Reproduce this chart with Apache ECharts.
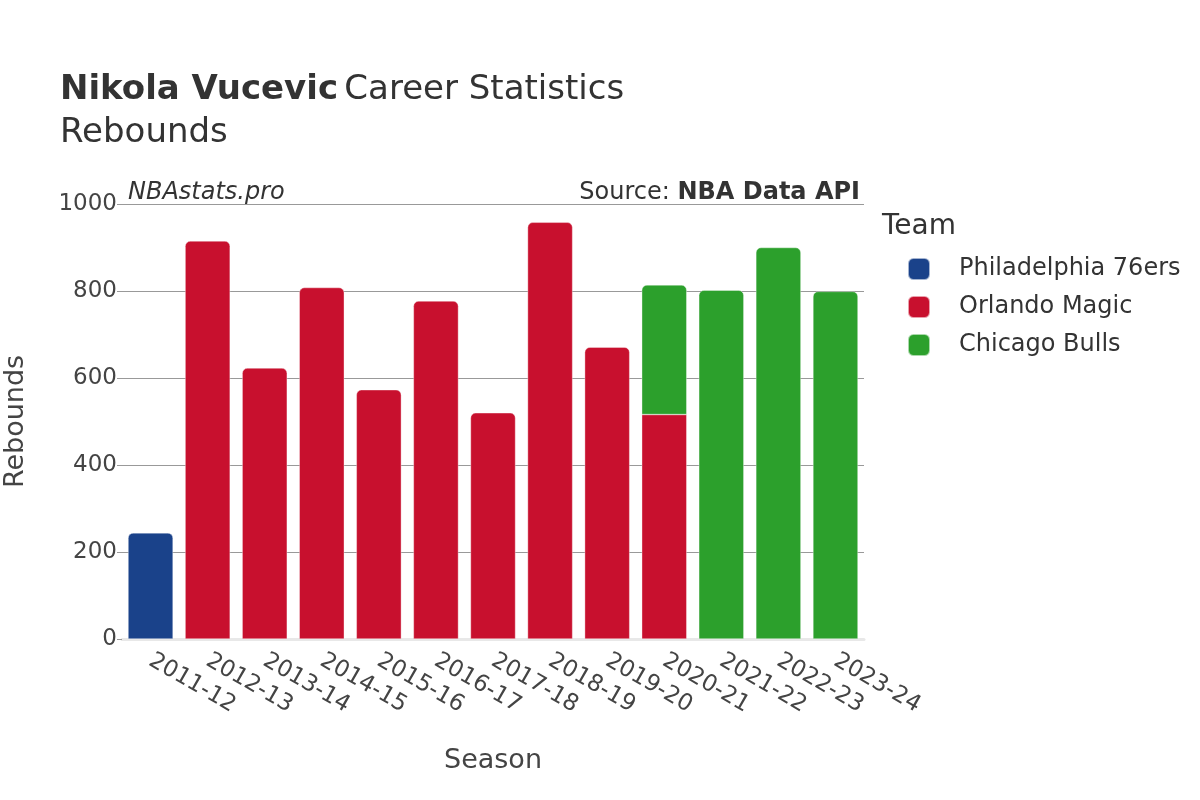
<!DOCTYPE html>
<html>
<head>
<meta charset="utf-8">
<script src="https://cdn.jsdelivr.net/npm/echarts@6/dist/echarts.min.js"></script>
<style>html,body{margin:0;padding:0;background:#fff}#c{width:1200px;height:800px}</style>
</head>
<body>
<div id="c"></div>
<script>
var seasons = ['2011-12','2012-13','2013-14','2014-15','2015-16','2016-17','2017-18','2018-19','2019-20','2020-21','2021-22','2022-23','2023-24'];
var phi = [244, null, null, null, null, null, null, null, null, null, null, null, null];
var orl = [null, 915, 623, 808, 573, 777, 520, 958, 671, 516, null, null, null];
var chi = [null, null, null, null, null, null, null, null, null, 298, 802, 900, 799];
var teams = ['Philadelphia 76ers', 'Orlando Magic', 'Chicago Bulls'];
var colors = ['#1a428a', '#c8102e', '#2ca02c'];
var yTicks = [0, 200, 400, 600, 800, 1000];

var FONT = 'DejaVu Sans';
var all = [phi, orl, chi];
function topIndex(i) {
  var t = -1;
  for (var s = 0; s < all.length; s++) if (all[s][i] != null) t = s;
  return t;
}
function build(arr, sIdx) {
  return arr.map(function (v, i) {
    if (v == null) return null;
    var isTop = topIndex(i) === sIdx;
    return { value: v, itemStyle: { borderRadius: isTop ? [5, 5, 0, 0] : 0 } };
  });
}
var series = all.map(function (arr, s) {
  return {
    name: teams[s], type: 'bar', stack: 'total', data: build(arr, s),
    barCategoryGap: '21%',
    itemStyle: { color: colors[s], borderColor: 'rgba(255,255,255,0.6)', borderWidth: 0.6 },
    emphasis: { disabled: true }
  };
});

var chart = echarts.init(document.getElementById('c'), null, { renderer: 'canvas' });
chart.setOption({
  animation: false,
  backgroundColor: '#fff',
  textStyle: { fontFamily: FONT },
  title: {
    left: 55, top: 64,
    text: '{b|Nikola Vucevic} {n|Career Statistics}\n{n|Rebounds}',
    textStyle: {
      rich: {
        b: { fontFamily: FONT, fontWeight: 'bold', fontSize: 34, color: '#333', lineHeight: 43 },
        n: { fontFamily: FONT, fontWeight: 'normal', fontSize: 34, color: '#333', lineHeight: 43 }
      }
    }
  },
  legend: {
    orient: 'vertical', left: 902, top: 252,
    icon: 'roundRect', itemWidth: 22, itemHeight: 22, itemGap: 14,
    textStyle: { fontFamily: FONT, fontSize: 24, color: '#333', padding: [0, 0, 0, 24] },
    data: teams
  },
  grid: { left: 122, right: 336, top: 204, bottom: 161, containLabel: false, outerBoundsMode: 'none' },
  xAxis: {
    type: 'category', data: seasons,
    name: 'Season', nameLocation: 'middle', nameGap: 108,
    nameTextStyle: { fontFamily: FONT, fontSize: 27, color: '#444' },
    axisLine: { show: true, lineStyle: { color: '#e8e8e8', width: 3 } },
    axisTick: { show: false },
    axisLabel: { rotate: -30, fontFamily: FONT, fontSize: 23, color: '#444', margin: 20, interval: 0 }
  },
  yAxis: {
    type: 'value', min: 0, max: 1000, interval: 200,
    name: 'Rebounds', nameLocation: 'middle', nameGap: 93,
    nameTextStyle: { fontFamily: FONT, fontSize: 27, color: '#444' },
    axisLine: { show: false },
    axisTick: { show: true, length: 5, lineStyle: { color: '#999' } },
    axisLabel: { fontFamily: FONT, fontSize: 23, color: '#444', margin: 5,
      formatter: function (v) { return yTicks.indexOf(v) >= 0 ? String(v) : ''; } },
    splitLine: { lineStyle: { color: '#999', width: 1 } }
  },
  graphic: [
    { type: 'text', left: 128, top: 181, style: { text: 'NBAstats.pro', font: 'italic 24px "DejaVu Sans"', fill: '#333' } },
    { type: 'text', right: 340, top: 181, style: { text: '{n|Source: }{b|NBA Data API}', fill: '#333', rich: {
        n: { fontFamily: FONT, fontSize: 24, fill: '#333' },
        b: { fontFamily: FONT, fontSize: 24, fontWeight: 'bold', fill: '#333' } } } },
    { type: 'text', left: 882, top: 213, style: { text: 'Team', font: '28px "DejaVu Sans"', fill: '#333' } }
  ],
  series: series
});
</script>
</body>
</html>
